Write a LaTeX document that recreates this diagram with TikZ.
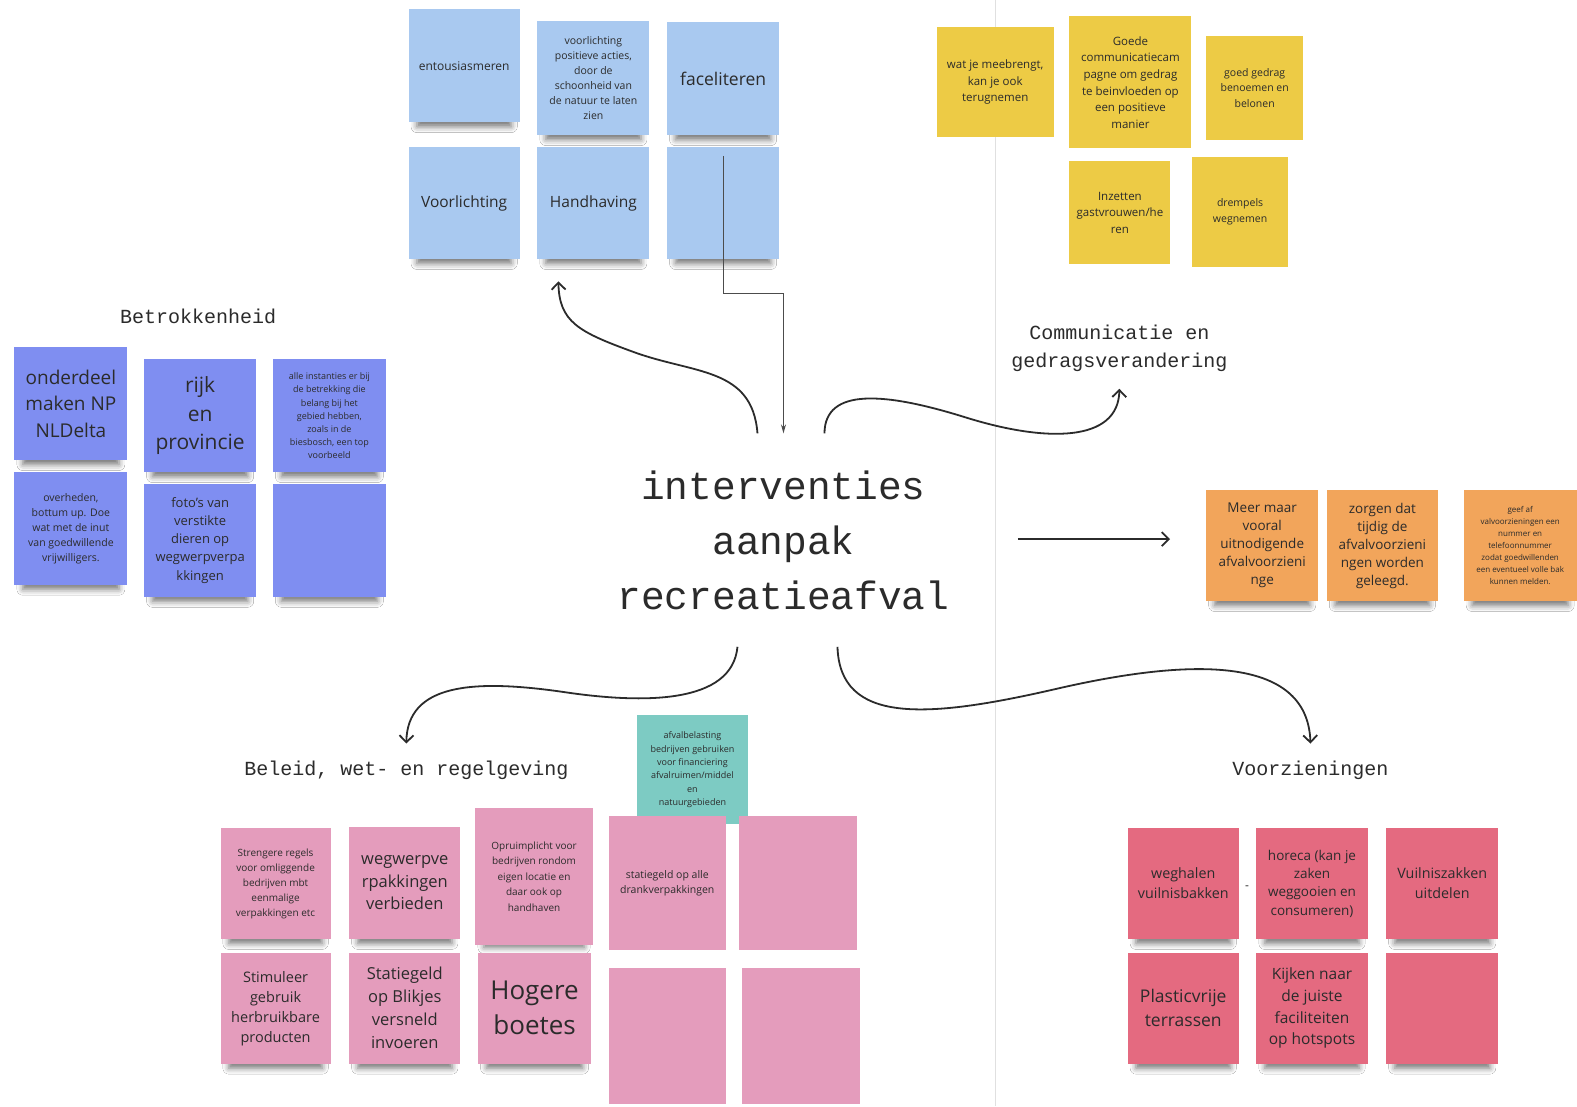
\documentclass[tikz,border=0pt]{standalone}
\usepackage{fontspec}
\setmainfont{Open Sans}
\newfontfamily\monofont{Liberation Mono}
\usetikzlibrary{arrows.meta,shadows.blur}

\definecolor{noteblue}{HTML}{A9C9F0}
\definecolor{notepurple}{HTML}{7F8EF1}
\definecolor{noteyellow}{HTML}{EDCB45}
\definecolor{noteorange}{HTML}{F2A55B}
\definecolor{notepink}{HTML}{E49CBC}
\definecolor{noteteal}{HTML}{7DCBC3}
\definecolor{notered}{HTML}{E46A80}
\definecolor{inkgray}{HTML}{2B2B2B}

\tikzset{
	fsz/.style 2 args={font=\fontsize{#1}{#2}\selectfont},
	note/.style={rectangle, align=center, inner sep=2pt, text=inkgray, minimum width=112pt, minimum height=112pt},
	shadowed/.style={blur shadow={shadow xshift=0pt, shadow yshift=-15pt, shadow scale=0.85, shadow opacity=55, shadow blur radius=7pt}},
	bluenote/.style={note, shadowed, fill=noteblue},
	purplenote/.style={note, shadowed, fill=notepurple},
	yellownote/.style={note, fill=noteyellow},
	orangenote/.style={note, shadowed, fill=noteorange},
	pinknote/.style={note, fill=notepink},
	tealnote/.style={note, fill=noteteal},
	rednote/.style={note, shadowed, fill=notered},
	grouplabel/.style={align=center, text=inkgray, font=\fontsize{20}{28}\monofont},
	flow/.style={line width=1.8pt, inkgray, -{Straight Barb[length=7pt,width=14pt]}},
	link/.style={line width=1pt, black!70, -{Stealth[length=9pt,width=5pt]}}
}

\begin{document}
\begin{tikzpicture}[x=1.0057pt,y=-1.0057pt]
	\fill[white] (0,0) rectangle (1568,1100);
	\useasboundingbox (0,0) rectangle (1568,1100);
	\draw[line width=1.5pt, black!12] (990,0) -- (990,1100);

	\node[bluenote, minimum width=111pt, minimum height=113pt, fsz={12}{16}] (blue1) at (461.5, 65.5) {entousiasmeren};
	\node[bluenote, minimum height=114pt, fsz={10.5}{15}] (blue2) at (590, 78) {voorlichting\\positieve acties,\\door de\\schoonheid van\\de natuur te laten\\zien};
	\node[bluenote, minimum height=113pt, fsz={17.5}{22}] (blue3) at (719, 78.5) {faceliteren};
	\node[bluenote, minimum width=111pt, fsz={15.5}{20}] (blue4) at (461.5, 202) {Voorlichting};
	\node[bluenote, fsz={15.5}{20}] (blue5) at (590, 202) {Handhaving};
	\node[bluenote] (blue6) at (719, 202) {};

	\node[grouplabel] (betr) at (197, 315) {Betrokkenheid};
	\node[purplenote, minimum width=113pt, minimum height=113pt, fsz={19}{26.5}] (pur1) at (70.5, 401.5) {onderdeel\\maken NP\\NLDelta};
	\node[purplenote, minimum height=113pt, fsz={21}{28.5}] (pur2) at (199, 413.5) {rijk\\en\\provincie};
	\node[purplenote, minimum width=113pt, minimum height=113pt, fsz={9}{13.2}] (pur3) at (327.5, 413.5) {alle instanties er bij\\de betrekking die\\belang bij het\\gebied hebben,\\zoals in de\\biesbosch, een top\\voorbeeld};
	\node[purplenote, minimum width=113pt, minimum height=113pt, fsz={10.5}{15}] (pur4) at (70.5, 525.5) {overheden,\\bottum up. Doe\\wat met de inut\\van goedwillende\\vrijwilligers.};
	\node[purplenote, minimum height=113pt, fsz={13}{18}] (pur5) at (199, 537.5) {foto's van\\verstikte\\dieren op\\wegwerpverpa\\kkingen};
	\node[purplenote, minimum width=113pt, minimum height=113pt] (pur6) at (327.5, 537.5) {};

	\node[yellownote, minimum width=117pt, minimum height=110pt, fsz={11.5}{16.5}] (yel1) at (989.5, 82) {wat je meebrengt,\\kan je ook\\terugnemen};
	\node[yellownote, minimum width=122pt, minimum height=132pt, fsz={11.5}{16.6}] (yel2) at (1124, 82) {Goede\\communicatiecam\\pagne om gedrag\\te beinvloeden op\\een positieve\\manier};
	\node[yellownote, minimum width=97pt, minimum height=103pt, fsz={10.5}{15.5}] (yel3) at (1247.5, 87.5) {goed gedrag\\benoemen en\\belonen};
	\node[yellownote, minimum width=101pt, minimum height=103pt, fsz={11.5}{16.5}] (yel4) at (1113.5, 211.5) {Inzetten\\gastvrouwen/he\\ren};
	\node[yellownote, minimum width=96pt, minimum height=110pt, fsz={10.5}{16}] (yel5) at (1233, 211) {drempels\\wegnemen};
	\node[grouplabel] (comm) at (1113, 346) {Communicatie en\\gedragsverandering};

	\node[text=inkgray, align=center, minimum height=213pt, font=\fontsize{39.5}{55}\monofont] (title) at (779, 537) {interventies\\aanpak\\recreatieafval};

	\node[orangenote, minimum height=111pt, fsz={13.5}{18}] (or1) at (1255, 542.5) {Meer maar\\vooral\\uitnodigende\\afvalvoorzieni\\nge};
	\node[orangenote, minimum width=111pt, minimum height=111pt, fsz={13.5}{18}] (or2) at (1374.5, 542.5) {zorgen dat\\tijdig de\\afvalvoorzieni\\ngen worden\\geleegd.};
	\node[orangenote, minimum width=113pt, minimum height=111pt, fsz={8}{12}] (or3) at (1511.5, 542.5) {geef af\\valvoorzieningen een\\nummer en\\telefoonnummer\\zodat goedwillenden\\een eventueel volle bak\\kunnen melden.};

	\node[grouplabel] (beleid) at (404, 766) {Beleid, wet- en regelgeving};
	\node[tealnote, minimum width=111pt, minimum height=109pt, fsz={9}{13.4}] (teal1) at (688.5, 765.5) {afvalbelasting\\bedrijven gebruiken\\voor financiering\\afvalruimen/middel\\en\\natuurgebieden};
	\node[pinknote, shadowed, minimum width=110pt, minimum height=111pt, fsz={10}{15}] (pink1) at (274, 878.5) {Strengere regels\\voor omliggende\\bedrijven mbt\\eenmalige\\verpakkingen etc};
	\node[pinknote, shadowed, minimum width=111pt, fsz={16.5}{22.5}] (pink2) at (402.5, 878) {wegwerpve\\rpakkingen\\verbieden};
	\node[pinknote, shadowed, minimum width=118pt, minimum height=137pt, fsz={10}{15.5}] (pink3) at (531, 871.5) {Opruimplicht voor\\bedrijven rondom\\eigen locatie en\\daar ook op\\handhaven};
	\node[pinknote, minimum width=117pt, minimum height=134pt, fsz={10.5}{15}] (pink4) at (663.5, 878) {statiegeld op alle\\drankverpakkingen};
	\node[pinknote, minimum width=118pt, minimum height=134pt] (pink5) at (793, 878) {};
	\node[pinknote, shadowed, minimum width=110pt, minimum height=111pt, fsz={14.5}{20}] (pink6) at (274, 1002.5) {Stimuleer\\gebruik\\herbruikbare\\producten};
	\node[pinknote, shadowed, minimum width=111pt, minimum height=111pt, fsz={16.5}{23}] (pink7) at (402.5, 1002.5) {Statiegeld\\op Blikjes\\versneld\\invoeren};
	\node[pinknote, shadowed, minimum width=113pt, minimum height=111pt, fsz={26}{35}] (pink8) at (531.5, 1002.5) {Hogere\\boetes};
	\node[pinknote, minimum width=117pt, minimum height=136pt] (pink9) at (663.5, 1030) {};
	\node[pinknote, minimum width=118pt, minimum height=136pt] (pink10) at (796, 1030) {};

	\node[grouplabel] (voorz) at (1303, 766) {Voorzieningen};
	\node[rednote, minimum width=111pt, minimum height=111pt, fsz={14.3}{20}] (red1) at (1176.5, 878.5) {weghalen\\vuilnisbakken};
	\node[rednote, minimum width=111pt, minimum height=111pt, fsz={13.5}{18.4}] (red2) at (1304.5, 878.5) {horeca (kan je\\zaken\\weggooien en\\consumeren)};
	\node[rednote, minimum height=111pt, fsz={14.3}{20}] (red3) at (1434, 878.5) {Vuilniszakken\\uitdelen};
	\node[rednote, minimum width=111pt, minimum height=111pt, fsz={17.5}{24}] (red4) at (1176.5, 1002.5) {Plasticvrije\\terrassen};
	\node[rednote, minimum width=111pt, minimum height=111pt, fsz={15.5}{21.7}] (red5) at (1304.5, 1002.5) {Kijken naar\\de juiste\\faciliteiten\\op hotspots};
	\node[rednote, minimum height=111pt] (red6) at (1434, 1002.5) {};
	\node[text=inkgray, inner sep=0pt, fsz={12}{12}] (dash) at (1240, 883) {-};

	\coordinate (ostart) at (1012, 536);

	\draw[link] ([yshift=-9pt]blue6.north) -- ++(0, 137) -| (title.north);
	\draw[flow] ([xshift=-26pt]title.north) .. controls (748, 365) and (690, 372) .. (630, 350) .. controls (575, 330) and (556, 320) .. ([xshift=-35pt,yshift=-22pt]blue5.south);
	\draw[flow] ([xshift=41pt]title.north) .. controls (820, 385) and (880, 390) .. (960, 415) .. controls (1040, 440) and (1112, 440) .. ([yshift=-14pt]comm.south);
	\draw[flow] (ostart) -- ([xshift=-36pt]or1.west |- ostart);
	\draw[flow] ([xshift=-46pt]title.south) .. controls (728, 700) and (640, 700) .. (560, 688) .. controls (470, 675) and (405, 680) .. ([yshift=14pt]beleid.north);
	\draw[flow] ([xshift=54pt]title.south) .. controls (835, 720) and (920, 715) .. (1050, 685) .. controls (1180, 655) and (1300, 650) .. ([yshift=14pt]voorz.north);
\end{tikzpicture}
\end{document}
